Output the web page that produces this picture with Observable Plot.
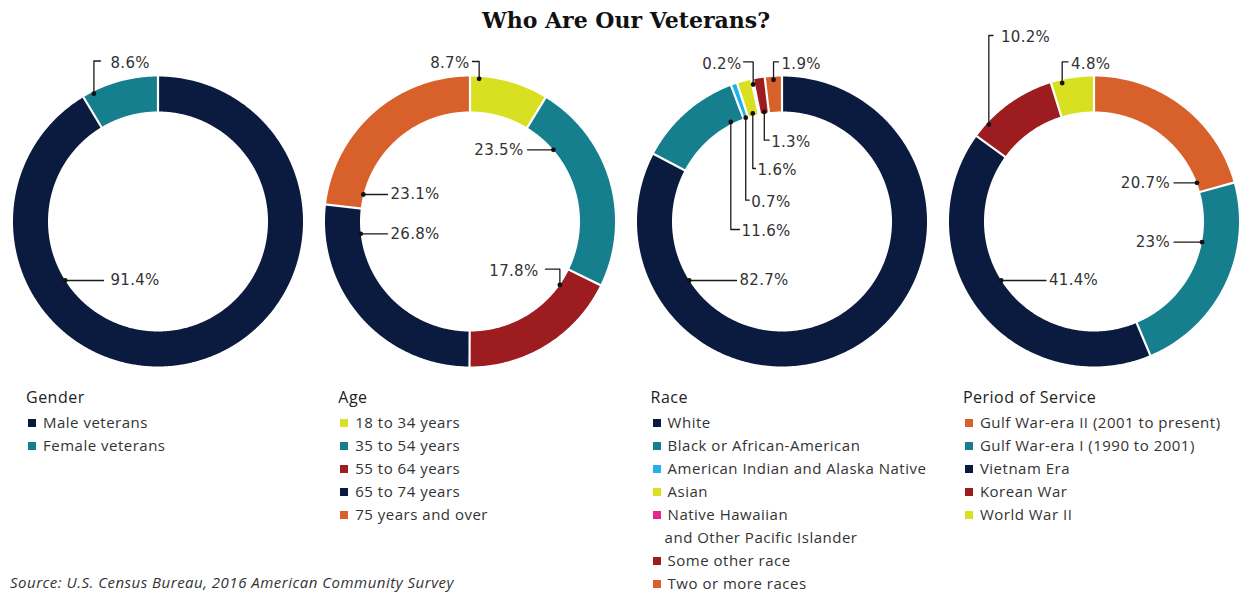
<!DOCTYPE html>
<html><head><meta charset="utf-8">
<script src="https://cdn.jsdelivr.net/npm/d3@7"></script>
<script src="https://cdn.jsdelivr.net/npm/@observablehq/plot@0.6"></script>
<style>
body{margin:0;background:#fff;overflow:hidden}
#page{position:relative;width:1241px;height:592px;font-family:"Open Sans",sans-serif;color:#333}
#title{position:absolute;left:0;top:7px;width:1241px;text-align:center;font-family:"DejaVu Serif",serif;font-weight:bold;font-size:22px;line-height:26px;color:#111;padding-left:11px;box-sizing:border-box}
#chart{position:absolute;left:0;top:30px}
.legend{position:absolute;top:386px}
.lg-title{font-size:16px;line-height:22px;height:25px;color:#222;letter-spacing:0.5px}
.lg-item{font-size:15px;height:23px;line-height:23px;position:relative;padding-left:17px;white-space:nowrap;letter-spacing:0.5px}
.lg-cont{font-size:15px;height:23px;line-height:23px;padding-left:14px;white-space:nowrap;letter-spacing:0.5px}
.sw{position:absolute;left:2px;top:7.5px;width:8px;height:8px}
#source{position:absolute;left:10px;top:571px;font-style:italic;font-size:15px;line-height:22px;color:#333;letter-spacing:0.5px}
</style></head>
<body>
<div id="page">
  <div id="title">Who Are Our Veterans?</div>
  <div id="chart"></div>
  <div id="legends"></div>
  <div id="source">Source: U.S. Census Bureau, 2016 American Community Survey</div>
</div>
<script>
// ---------- data ----------
const charts = ["Gender", "Age", "Race", "Period of Service"];
const genderCategories = ["Male veterans", "Female veterans"];
const genderValues = [91.4, 8.6];
const ageCategories = ["18 to 34 years", "35 to 54 years", "55 to 64 years", "65 to 74 years", "75 years and over"];
const ageValues = [8.7, 23.5, 17.8, 26.8, 23.1];
const raceCategories = ["White", "Black or African-American", "American Indian and Alaska Native", "Asian", "Native Hawaiian|and Other Pacific Islander", "Some other race", "Two or more races"];
const raceValues = [82.7, 11.6, 0.7, 1.6, 0.2, 1.3, 1.9];
const serviceCategories = ["Gulf War-era II (2001 to present)", "Gulf War-era I (1990 to 2001)", "Vietnam Era", "Korean War", "World War II"];
const serviceValues = [20.7, 23, 41.4, 10.2, 4.8];

// ---------- styles ----------
const navy = "#0b1a3f", teal = "#167f8e", red = "#9c1c1f", orange = "#d8612b",
      yellow = "#d9e022", sky = "#22b1e6", pink = "#e8288c";
const palettes = [
  [navy, teal],
  [yellow, teal, red, navy, orange],
  [navy, teal, sky, yellow, pink, red, orange],
  [orange, teal, navy, red, yellow]
];
const categories = [genderCategories, ageCategories, raceCategories, serviceCategories];
const values = [genderValues, ageValues, raceValues, serviceValues];

// callout layout (relative to each donut centre, px)
const labelLayout = [
  [ {route:"h", anchor:"start", tx:-47.5, ty:59, gap:7},
    {route:"vh", anchor:"start", tx:-47.5, ty:-158.5, t:0.14, r:143, gap:10} ],
  [ {route:"vh", anchor:"end", tx:-0.5, ty:-158, t:0.117, r:143, gap:3},
    {route:"h", anchor:"end", tx:53.5, ty:-71.7, gap:4},
    {route:"vh", anchor:"end", tx:68.5, ty:49.7, t:0.143, r:110, gap:7},
    {route:"h", anchor:"start", tx:-79.5, ty:12.3, gap:3},
    {route:"h", anchor:"start", tx:-79.5, ty:-27, gap:3} ],
  [ {route:"h", anchor:"start", tx:-42.5, ty:59, gap:3},
    {route:"vh", anchor:"start", tx:-40.5, ty:10, t:0.84, r:112, gap:2},
    {route:"vh", anchor:"start", tx:-30.8, ty:-19.3, t:0.5, r:110, gap:2},
    {route:"vh", anchor:"start", tx:-24.5, ty:-51, t:0.5, r:112, gap:2},
    {route:"vh", anchor:"end", tx:-40.5, ty:-157.7, t:0.5, r:140, gap:2},
    {route:"vh", anchor:"start", tx:-10.8, ty:-79.3, t:0.5, r:111, gap:2},
    {route:"vh", anchor:"start", tx:-0.5, ty:-157.7, t:0.5, r:142, gap:3} ],
  [ {route:"h", anchor:"end", tx:76, ty:-38.7, gap:4},
    {route:"h", anchor:"end", tx:76, ty:20.7, gap:4},
    {route:"h", anchor:"start", tx:-45, ty:59, gap:3},
    {route:"vh", anchor:"start", tx:-93, ty:-184, t:0.18, r:143, gap:8},
    {route:"vh", anchor:"start", tx:-23, ty:-157.7, t:0.25, r:142, gap:3} ]
];

const W = 1241, H = 350, CY = 191, RO = 145, RI = 110;
const cxOf = i => 157.5 + i * 312;
const rad = a => a * Math.PI / 180;
const pt = (cx, r, a) => ({x: cx + r * Math.sin(rad(a)), y: CY - r * Math.cos(rad(a))});

const arcRows = [], sepRows = [], leaderRows = [], dotRows = [], textRows = [];
charts.forEach((chart, i) => {
  const cx = cxOf(i);
  const vals = values[i];
  const total = d3.sum(vals);
  let acc = 0;
  vals.forEach((v, j) => {
    const a0 = acc / total * 360, a1 = (acc + v) / total * 360;
    acc += v;
    const key = chart + "-" + j;
    const n = Math.max(2, Math.ceil((a1 - a0) / 0.5));
    const color = palettes[i][j];
    for (let k = 0; k <= n; k++) arcRows.push({key, color, ...pt(cx, RO, a0 + (a1 - a0) * k / n)});
    for (let k = n; k >= 0; k--) arcRows.push({key, color, ...pt(cx, RI, a0 + (a1 - a0) * k / n)});
    const p1 = pt(cx, RI - 1, a0), p2 = pt(cx, RO + 1, a0);
    sepRows.push({x1: p1.x, y1: p1.y, x2: p2.x, y2: p2.y});

    // callout
    const L = labelLayout[i][j];
    const tx = cx + L.tx, ty = CY + L.ty;
    const endX = L.anchor === "start" ? tx - L.gap : tx + L.gap;
    let dot;
    if (L.route === "h") {
      const side = L.anchor === "start" ? -1 : 1;
      dot = {x: cx + side * Math.sqrt(RI * RI - L.ty * L.ty), y: ty};
      leaderRows.push({key, x: dot.x, y: dot.y}, {key, x: endX, y: ty});
    } else {
      dot = pt(cx, L.r, a0 + (a1 - a0) * L.t);
      const ey = ty - 2;
      leaderRows.push({key, x: dot.x, y: dot.y}, {key, x: dot.x, y: ey}, {key, x: endX, y: ey});
    }
    dotRows.push(dot);
    textRows.push({x: tx, y: ty, anchor: L.anchor, text: `${v}%`});
  });
});

const textStyle = {fontSize: 15, fill: "#333", fontFamily: "DejaVu Sans"};
const plot = Plot.plot({
  width: W, height: H, margin: 0,
  x: {domain: [0, W], range: [0, W], axis: null},
  y: {domain: [0, H], range: [0, H], axis: null},
  color: {type: "identity"},
  style: {background: "white", overflow: "visible", letterSpacing: "0.3px"},
  marks: [
    Plot.line(arcRows, {x: "x", y: "y", z: "key", fill: "color", stroke: "none", curve: "linear"}),
    Plot.link(sepRows, {x1: "x1", y1: "y1", x2: "x2", y2: "y2", stroke: "white", strokeWidth: 2.2}),
    Plot.line(leaderRows, {x: "x", y: "y", z: "key", stroke: "#1a1a1a", strokeWidth: 1.3}),
    Plot.dot(dotRows, {x: "x", y: "y", r: 2.4, fill: "#111", stroke: "none"}),
    Plot.text(textRows.filter(d => d.anchor === "start"), {x: "x", y: "y", text: "text", textAnchor: "start", ...textStyle}),
    Plot.text(textRows.filter(d => d.anchor === "end"), {x: "x", y: "y", text: "text", textAnchor: "end", ...textStyle})
  ]
});
document.getElementById("chart").appendChild(plot);

// ---------- legends ----------
const legends = document.getElementById("legends");
charts.forEach((chart, i) => {
  const box = document.createElement("div");
  box.className = "legend";
  box.style.left = (26 + i * 312.3) + "px";
  const t = document.createElement("div");
  t.className = "lg-title";
  t.textContent = chart;
  box.appendChild(t);
  categories[i].forEach((c, j) => {
    const parts = c.split("|");
    const it = document.createElement("div");
    it.className = "lg-item";
    const sw = document.createElement("span");
    sw.className = "sw";
    sw.style.background = palettes[i][j];
    it.appendChild(sw);
    it.appendChild(document.createTextNode(parts[0]));
    box.appendChild(it);
    if (parts[1]) {
      const cont = document.createElement("div");
      cont.className = "lg-cont";
      cont.textContent = parts[1];
      box.appendChild(cont);
    }
  });
  legends.appendChild(box);
});
</script>
</body></html>
